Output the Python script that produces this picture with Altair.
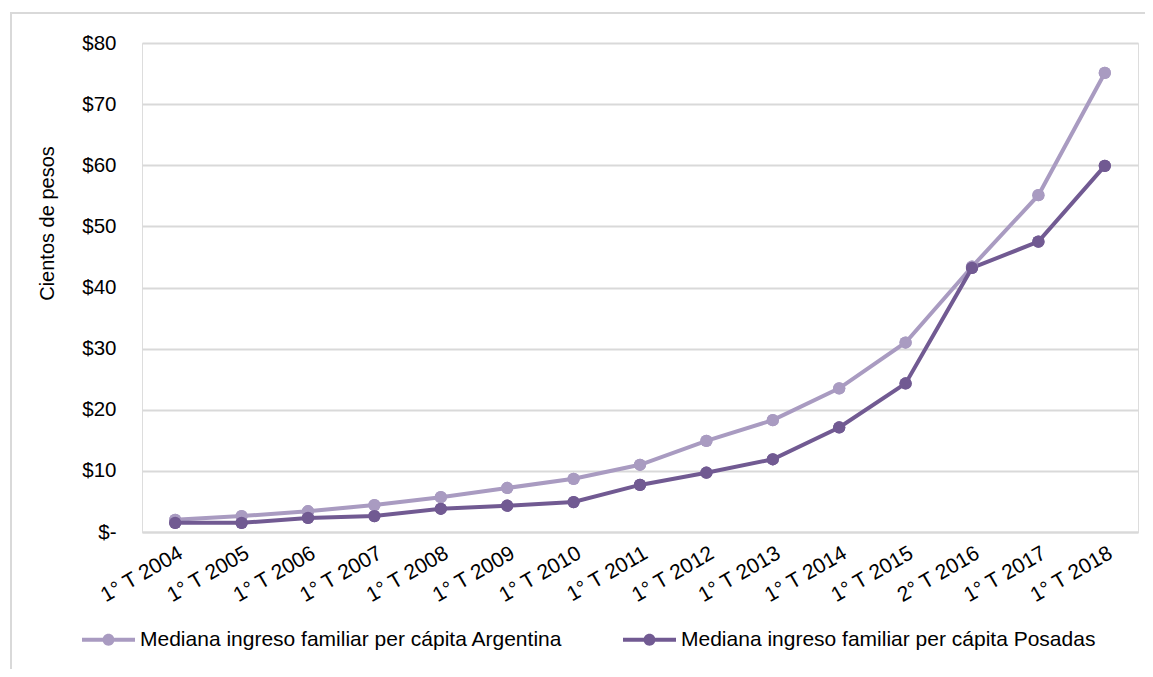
import altair as alt
import pandas as pd

categories = ["1° T 2004", "1° T 2005", "1° T 2006", "1° T 2007", "1° T 2008",
              "1° T 2009", "1° T 2010", "1° T 2011", "1° T 2012", "1° T 2013",
              "1° T 2014", "1° T 2015", "2° T 2016", "1° T 2017", "1° T 2018"]
argentina = [2.0, 2.6, 3.4, 4.4, 5.7, 7.2, 8.7, 11.0, 14.9, 18.3, 23.5, 31.0, 43.4, 55.1, 75.1]
posadas = [1.5, 1.5, 2.3, 2.6, 3.8, 4.3, 4.9, 7.7, 9.7, 11.9, 17.1, 24.3, 43.2, 47.5, 59.9]
series_names = ["Mediana ingreso familiar per cápita Argentina",
                "Mediana ingreso familiar per cápita Posadas"]
series_colors = ["#A99BC1", "#715A92"]

rows = []
for i, c in enumerate(categories):
    rows.append({"periodo": c, "serie": series_names[0], "valor": argentina[i], "orden": 0})
for i, c in enumerate(categories):
    rows.append({"periodo": c, "serie": series_names[1], "valor": posadas[i], "orden": 1})
df = pd.DataFrame(rows)

FONT = "Liberation Sans"
legend_path = ("M-1,-0.075H-0.215V0.075H-1Z M0.215,-0.075H1V0.075H0.215Z "
               "M-0.226,0A0.226,0.226 0 1,1 0.226,0A0.226,0.226 0 1,1 -0.226,0Z")

color = alt.Color(
    "serie:N",
    scale=alt.Scale(domain=series_names, range=series_colors),
    legend=alt.Legend(
        title=None, orient="none", direction="horizontal",
        legendX=-60, legendY=570,
        symbolType=legend_path, symbolSize=2809, symbolStrokeWidth=0,
        symbolOpacity=1,
        labelFont=FONT, labelFontSize=21, labelColor="#000000",
        labelOffset=5, columnPadding=60, labelLimit=700,
    ),
)

x = alt.X("periodo:N", sort=categories, scale=alt.Scale(type="point", padding=0.5),
          axis=alt.Axis(title=None, labelAngle=-30, labelFont=FONT, labelFontSize=21,
                        labelColor="#000000", ticks=False, domain=True,
                        domainColor="#D9D9D9", domainWidth=2, grid=False, labelPadding=10))
y = alt.Y("valor:Q", scale=alt.Scale(domain=[0, 80], nice=False),
          axis=alt.Axis(title="Cientos de pesos", titleFont=FONT, titleFontSize=20,
                        titleFontWeight="normal", titleColor="#000000", titlePadding=24,
                        titleY=180, titleAlign="center",
                        values=[0, 10, 20, 30, 40, 50, 60, 70, 80],
                        labelExpr="datum.value == 0 ? '$-' : '$' + datum.value",
                        labelFont=FONT, labelFontSize=20.5, labelColor="#000000",
                        labelPadding=26, ticks=False, domain=False,
                        grid=True, gridColor="#D9D9D9", gridWidth=2))

base = alt.Chart(df).encode(x=x, y=y, color=color, order="orden:Q")
points_under = base.mark_circle(size=150, opacity=1)
lines = base.mark_line(strokeWidth=4).encode(detail="serie:N")
points = base.mark_circle(size=150, opacity=1)

frame_df = pd.DataFrame({"f": [0]})
frame_left = alt.Chart(frame_df).mark_rule(stroke="#D9D9D9", strokeWidth=2).encode(
    x=alt.value(-131), y=alt.value(-31), y2=alt.value(626))
frame_top = alt.Chart(frame_df).mark_rule(stroke="#D9D9D9", strokeWidth=2).encode(
    x=alt.value(-132), x2=alt.value(1003), y=alt.value(-30))

chart = alt.layer(frame_left, frame_top, points_under, lines, points).properties(
    width=996, height=489,
    autosize=alt.AutoSizeParams(type="none"),
    padding={"left": 134, "top": 35, "right": 7, "bottom": 137},
).configure_view(stroke=None).configure(background="white")

chart.save("out.html", embed_options={"renderer": "svg", "actions": False})
